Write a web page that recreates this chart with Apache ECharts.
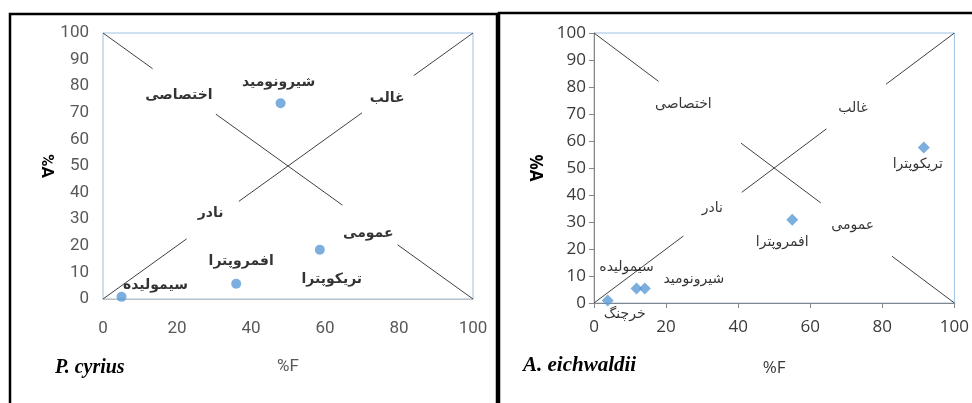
<!DOCTYPE html>
<html>
<head>
<meta charset="utf-8">
<script src="https://cdn.jsdelivr.net/npm/echarts@6/dist/echarts.min.js"></script>
<style>
html,body{margin:0;padding:0;background:#fff;}
#c{width:972px;height:403px;}
</style>
</head>
<body>
<div id="c"></div>
<script>
// ---- data ----
const xTicks = [0, 20, 40, 60, 80, 100];
const yTicks = [0, 10, 20, 30, 40, 50, 60, 70, 80, 90, 100];

const leftTitle = 'P. cyrius';
const rightTitle = 'A. eichwaldii';
const xName = '%F';
const yName = '%A';

const leftNames = ['سیمولیده', 'افمروپترا', 'تریکوپترا', 'شیرونومید'];
const leftF = [5, 36, 58.6, 48];
const leftA = [0.8, 5.7, 18.5, 73.6];

const rightNames = ['خرچنگ', 'سیمولیده', 'شیرونومید', 'افمروپترا', 'تریکوپترا'];
const rightF = [3.8, 11.8, 14.1, 55, 91.5];
const rightA = [0.9, 5.4, 5.4, 30.8, 57.6];

const zoneNames = ['اختصاصی', 'غالب', 'نادر', 'عمومی'];
const leftZoneF = [20.5, 76.8, 29.1, 71.7];
const leftZoneA = [76.7, 75.6, 32.3, 24.8];
const rightZoneF = [24.8, 71.9, 32.8, 71.8];
const rightZoneA = [73.4, 72.2, 35.2, 28.6];

// diagonal guide lines (broken around labels): [F1, A1, F2, A2]
const leftDiag = [
  [0, 100, 13.4, 86.6], [30.5, 69.5, 64.7, 35.3], [79.6, 20.4, 100, 0],
  [0, 0, 22.6, 22.6], [36.7, 36.7, 70, 70], [84, 84, 100, 100]
];
const rightDiag = [
  [0, 100, 17.9, 82.1], [40.8, 59.2, 62.9, 37.1], [82.7, 17.3, 100, 0],
  [0, 0, 24.8, 24.8], [41, 41, 64.5, 64.5], [81, 81, 100, 100]
];

// ---- styles (label offsets in px) ----
const leftLabelOffsets = [[34, -12], [5, -22], [12, 30], [-2, -21]];
const rightLabelOffsets = [[17, 14], [-10, -21], [49, -9], [-10, 23], [-6, 17]];

const faFont = '"DejaVu Sans", "Liberation Sans", sans-serif';
const pointColor = '#5b9bd5';
const borderBlue = '#9dc3e6';

function makeAxes(idx, opt) {
  const x = {
    type: 'value', gridIndex: idx, min: xTicks[0], max: xTicks[xTicks.length - 1],
    interval: xTicks[1] - xTicks[0],
    name: xName, nameLocation: 'middle', nameGap: opt.xNameGap,
    nameTextStyle: { color: opt.labelColor, fontSize: 17, fontFamily: opt.font },
    axisLine: { show: true, lineStyle: { color: opt.xLineColor, width: 1 } },
    axisTick: { show: opt.ticks, length: 5, lineStyle: { color: opt.xLineColor } },
    splitLine: { show: false },
    axisLabel: { color: opt.labelColor, fontSize: opt.labelSize, fontFamily: opt.font, margin: opt.xMargin }
  };
  const y = {
    type: 'value', gridIndex: idx, min: yTicks[0], max: yTicks[yTicks.length - 1],
    interval: yTicks[1] - yTicks[0],
    name: yName, nameLocation: 'middle', nameGap: opt.yNameGap, nameRotate: -90,
    nameTextStyle: { color: '#000', fontSize: 17, fontWeight: 'bold', fontFamily: opt.font },
    axisLine: { show: true, lineStyle: { color: opt.yLineColor, width: 1 } },
    axisTick: { show: opt.ticks, length: 5, lineStyle: { color: opt.yLineColor } },
    splitLine: { show: false },
    axisLabel: { color: opt.labelColor, fontSize: opt.labelSize, fontFamily: opt.font, margin: opt.yMargin }
  };
  return [x, y];
}

const la = makeAxes(0, { xNameGap: 59, yNameGap: 48, labelColor: '#595959', labelSize: 17, font: 'Roboto', xLineColor: '#bfbfbf', yLineColor: '#d9d9d9', ticks: false, xMargin: 21, yMargin: 14 });
const ra = makeAxes(1, { xNameGap: 57, yNameGap: 51, labelColor: '#3a3a3a', labelSize: 17, font: '"Open Sans"', xLineColor: '#868686', yLineColor: '#868686', ticks: true, xMargin: 16, yMargin: 8 });

const series = [];
function addDiag(segs, idx) {
  segs.forEach(s => series.push({
    type: 'line', xAxisIndex: idx, yAxisIndex: idx, silent: true, symbol: 'none',
    lineStyle: { color: '#404040', width: 1 }, data: [[s[0], s[1]], [s[2], s[3]]], z: 2
  }));
}
addDiag(leftDiag, 0);
addDiag(rightDiag, 1);

function addZones(fs, as, idx, size, weight) {
  series.push({
    type: 'scatter', xAxisIndex: idx, yAxisIndex: idx, symbolSize: 0, silent: true,
    data: fs.map((f, i) => ({ value: [f, as[i]], name: zoneNames[i] })),
    label: { show: true, position: 'inside', formatter: p => p.name, color: '#000', fontSize: size, fontWeight: weight, fontFamily: faFont }
  });
}
addZones(leftZoneF, leftZoneA, 0, 14, 'bold');
addZones(rightZoneF, rightZoneA, 1, 14, 'normal');

series.push({
  type: 'scatter', xAxisIndex: 0, yAxisIndex: 0, symbol: 'circle', symbolSize: 10,
  itemStyle: { color: pointColor }, z: 5,
  data: leftF.map((f, i) => ({ value: [f, leftA[i]], name: leftNames[i],
    label: { offset: leftLabelOffsets[i] } })),
  label: { show: true, position: 'inside', formatter: p => p.name, color: '#000', fontSize: 14, fontWeight: 'bold', fontFamily: faFont }
});
series.push({
  type: 'scatter', xAxisIndex: 1, yAxisIndex: 1, symbol: 'diamond', symbolSize: 12,
  itemStyle: { color: pointColor }, z: 5,
  data: rightF.map((f, i) => ({ value: [f, rightA[i]], name: rightNames[i],
    label: { offset: rightLabelOffsets[i] } })),
  label: { show: true, position: 'inside', formatter: p => p.name, color: '#000', fontSize: 14, fontFamily: faFont }
});

const chart = echarts.init(document.getElementById('c'), null, { renderer: 'canvas' });
chart.setOption({
  backgroundColor: '#fff',
  animation: false,
  grid: [
    { left: 103, top: 33, width: 370, height: 266, show: true, borderColor: borderBlue, borderWidth: 1, backgroundColor: 'transparent' },
    { left: 594, top: 33, width: 365, height: 270, show: true, borderColor: borderBlue, borderWidth: 1, backgroundColor: 'transparent' }
  ],
  xAxis: [la[0], ra[0]],
  yAxis: [la[1], ra[1]],
  series: series,
  graphic: [
    { type: 'rect', shape: { x: 10, y: 14, width: 487, height: 400 }, style: { fill: 'none', stroke: '#000', lineWidth: 2.5 }, silent: true },
    { type: 'rect', shape: { x: 499, y: 13, width: 480, height: 400 }, style: { fill: 'none', stroke: '#000', lineWidth: 2.5 }, silent: true },
    { type: 'text', left: 55, top: 358, style: { text: leftTitle, fill: '#000', font: 'italic bold 20px "Liberation Serif", serif' } },
    { type: 'text', left: 523, top: 355, style: { text: rightTitle, fill: '#000', font: 'italic bold 21px "Liberation Serif", serif' } }
  ]
});
</script>
</body>
</html>
